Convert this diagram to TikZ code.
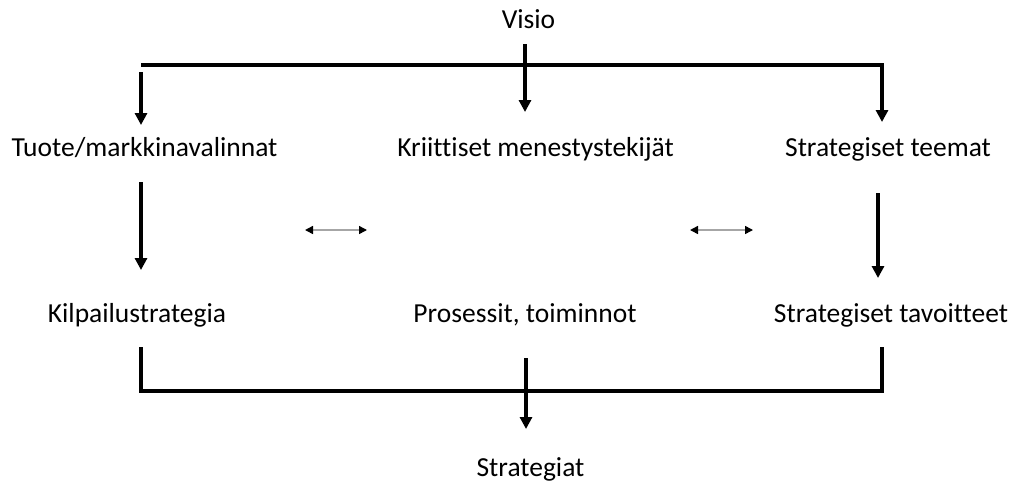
\documentclass[tikz,border=0pt]{standalone}
\usepackage{fontspec}
\setmainfont{Carlito}[Ligatures={NoCommon}]
\usetikzlibrary{arrows.meta}
\tikzset{
  lbl/.style={font=\fontsize{27.5}{32}\selectfont, inner sep=0pt, anchor=base},
  bigarrow/.style={line width=3.5pt, -{Triangle[width=12pt,length=12pt]}},
  bracket/.style={line width=3.5pt},
  swap/.style={gray!70, line width=1.5pt,
    {Triangle[black,width=8pt,length=8pt]}-{Triangle[black,width=8pt,length=8pt]}}
}
\begin{document}
\begin{tikzpicture}[x=1pt,y=-1pt]
\useasboundingbox (0,0) rectangle (1011,493);

% Labels (placed on their baselines)
\node[lbl] (visio) at (528.5,28.5) {Visio};
\node[lbl] (tuote) at (144.5,156.5) {Tuote/markkinavalinnat};
\node[lbl] (kriit) at (535.5,156.5) {Kriittiset menestystekijät};
\node[lbl] (teemat) at (888,156.5) {Strategiset teemat};
\node[lbl] (kilp) at (137,322) {Kilpailustrategia};
\node[lbl] (proses) at (525,322) {Prosessit, toiminnot};
\node[lbl] (tavoit) at (891,322) {Strategiset tavoitteet};
\node[lbl] (strat) at (530.5,476) {Strategiat};

% Arrow ends
\coordinate (topl) at (141,65);
\coordinate (topr) at (882,65);
\coordinate (visio-out) at (525,44);
\coordinate (kriit-in) at (525,112);
\coordinate (tuote-in0) at (141,72);
\coordinate (tuote-in) at (141,125);
\coordinate (teemat-in) at (882,122);
\coordinate (tuote-out) at (141,182);
\coordinate (kilp-in) at (141,270);
\coordinate (teemat-out) at (878,193);
\coordinate (tavoit-in) at (878,278);

% Top bracket
\draw[bigarrow] (topl) -- (topr) -- (teemat-in);
\draw[bigarrow] (visio-out) -- (kriit-in);
\draw[bigarrow] (tuote-in0) -- (tuote-in);

% Vertical arrows
\draw[bigarrow] (tuote-out) -- (kilp-in);
\draw[bigarrow] (teemat-out) -- (tavoit-in);

% Double arrows
\coordinate (sw1) at (305,230);
\coordinate (sw2) at (367,230);
\coordinate (sw3) at (690,230);
\coordinate (sw4) at (753,230);
\draw[swap] (sw1) -- (sw2);
\draw[swap] (sw3) -- (sw4);

% Bottom bracket
\coordinate (kilp-out) at (141,347);
\coordinate (botl) at (141,391);
\coordinate (botr) at (882,391);
\coordinate (tavoit-out) at (882,347);
\coordinate (proses-out) at (526,358);
\coordinate (strat-in) at (526,429);
\draw[bracket] (kilp-out) -- (botl) -- (botr) -- (tavoit-out);
\draw[bigarrow] (proses-out) -- (strat-in);
\end{tikzpicture}
\end{document}
